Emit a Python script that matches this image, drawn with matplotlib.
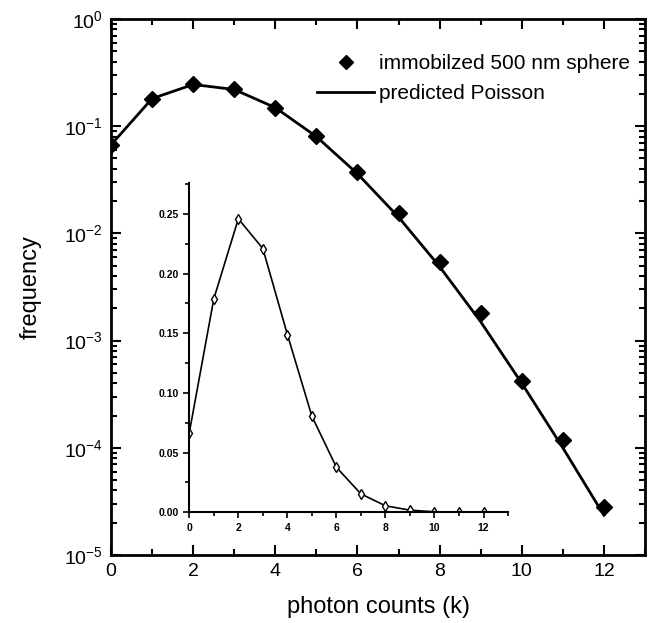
import matplotlib
matplotlib.use('Agg')
import matplotlib.pyplot as plt
from matplotlib.ticker import MultipleLocator, LogLocator, NullFormatter

plt.rcParams['font.family'] = ['Liberation Sans', 'DejaVu Sans']
plt.rcParams['mathtext.fontset'] = 'custom'
plt.rcParams['mathtext.rm'] = 'Liberation Sans'

# photon counts
k = [0, 1, 2, 3, 4, 5, 6, 7, 8, 9, 10, 11, 12]
# measured frequency, immobilized 500 nm sphere
measured = [0.0668, 0.179, 0.246, 0.221, 0.149, 0.0805, 0.0377, 0.0154,
            0.00544, 0.0018, 0.00042, 0.000118, 0.0000279]
# predicted Poisson
poisson = [0.067, 0.181, 0.245, 0.220, 0.149, 0.080, 0.036, 0.0142,
           0.0049, 0.0015, 0.00040, 0.000100, 0.0000235]

fig = plt.figure(figsize=(6.51, 6.23), dpi=100)
ax = fig.add_axes([0.1705, 0.1091, 0.8203, 0.8604])

ax.plot(k, poisson, color='black', lw=2, label='predicted Poisson', zorder=2)
ax.plot(k, measured, 'D', color='black', markersize=8, label='immobilzed 500 nm sphere', zorder=3)

ax.set_yscale('log')
ax.set_ylim(1e-5, 1)
ax.set_xlim(0, 13)
ax.xaxis.set_major_locator(MultipleLocator(2))
ax.xaxis.set_minor_locator(MultipleLocator(1))
ax.yaxis.set_major_locator(LogLocator(base=10, numticks=10))
ax.yaxis.set_minor_locator(LogLocator(base=10, subs=range(2, 10), numticks=10))
ax.yaxis.set_minor_formatter(NullFormatter())
ax.tick_params(which='both', direction='in', top=True, right=True, width=1.5)
ax.tick_params(which='major', length=7, labelsize=14, pad=6)
ax.tick_params(which='minor', length=4)
for s in ax.spines.values():
    s.set_linewidth(2)

ax.set_xlabel('photon counts (k)', fontsize=17, labelpad=11)
ax.set_ylabel('frequency', fontsize=17, labelpad=16)

h, l = ax.get_legend_handles_labels()
ax.legend(h[::-1], l[::-1], loc='upper right', bbox_to_anchor=(1.0, 0.962), frameon=False,
          fontsize=15, handlelength=2.75, handletextpad=0.25, labelspacing=0.55,
          borderaxespad=0.3, markerscale=0.85)

# inset, linear scale
ins = fig.add_axes([0.2908, 0.1777, 0.4896, 0.5286])
ins.patch.set_alpha(0)
ins.plot(k, measured, color='black', lw=1.2, marker='d', markersize=5,
         mfc='white', mec='black', mew=1)
ins.set_xlim(0, 13)
ins.set_ylim(0, 0.276)
ins.xaxis.set_major_locator(MultipleLocator(2))
ins.xaxis.set_minor_locator(MultipleLocator(1))
ins.yaxis.set_major_locator(MultipleLocator(0.05))
ins.yaxis.set_minor_locator(MultipleLocator(0.025))
ins.yaxis.set_major_formatter(plt.FormatStrFormatter('%.2f'))
ins.spines['top'].set_visible(False)
ins.spines['right'].set_visible(False)
for s in ('left', 'bottom'):
    ins.spines[s].set_linewidth(1.5)
ins.tick_params(which='both', direction='out', width=1.2, labelsize=7.5)
ins.tick_params(which='major', length=4)
ins.tick_params(which='minor', length=3)
for t in ins.get_xticklabels() + ins.get_yticklabels():
    t.set_fontweight('bold')

fig.savefig('out.png', dpi=100)
